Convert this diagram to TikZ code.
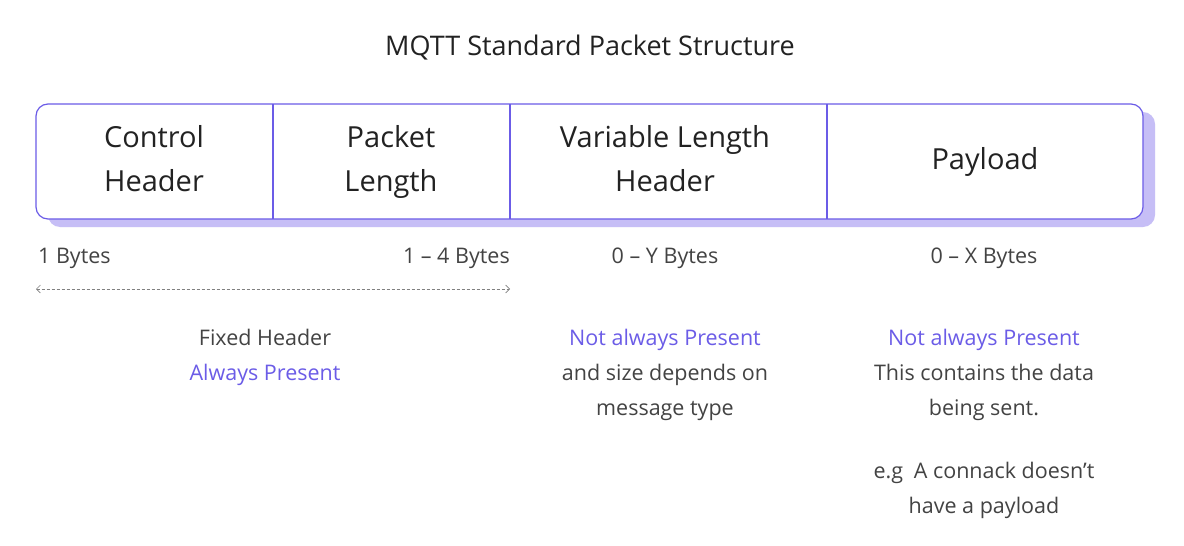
\documentclass[tikz,border=0pt]{standalone}
\usepackage{fontspec}
\setmainfont{Open Sans}
\usetikzlibrary{arrows.meta}
\definecolor{pur}{HTML}{6B5CE7}
\definecolor{shad}{HTML}{C6BEF6}
\definecolor{txt}{HTML}{222222}
\tikzset{cell/.style={font=\fontsize{29}{44}\selectfont, text=txt, align=center, inner sep=0},
 lab/.style={font=\fontsize{21.5}{35}\selectfont, text=txt!85, align=center, inner sep=0},
 plab/.style={font=\fontsize{21.5}{35}\selectfont, text=pur, align=center, inner sep=0}}
\begin{document}
\begin{tikzpicture}[x=1pt,y=-1pt]
\useasboundingbox[fill=white] (0,0) rectangle (1184,546);
\node[font=\fontsize{27}{32}\selectfont, text=txt] (title) at (590,48) {MQTT Standard Packet Structure};
\fill[shad, rounded corners=12] (48,112) rectangle (1155,227);
\draw[pur, fill=white, line width=1.2, rounded corners=12] (36,104) rectangle (1143,219);
\draw[pur, line width=1.2] (273,104) -- (273,219) (510,104) -- (510,219) (827,104) -- (827,219);
\node[cell] (c1) at (154,161) {\strut Control\\\strut Header};
\node[cell] (c2) at (391,161) {\strut Packet\\\strut Length};
\node[cell] (c3) at (665,161) {\strut Variable Length\\\strut Header};
\node[cell] (c4) at (985,161) {\strut Payload};
\node[lab, anchor=west] (b1) at (38,256) {\strut 1 Bytes};
\node[lab, anchor=east] (b2) at (510,256) {\strut 1 – 4 Bytes};
\node[lab] (b3) at (665,256) {\strut 0 – Y Bytes};
\node[lab] (b4) at (984,256) {\strut 0 – X Bytes};
\coordinate (l) at (36,289); \coordinate (r) at (510,289);
\draw[gray, dashed, dash pattern=on 3pt off 2pt, line width=0.6, {Straight Barb[length=4pt]}-{Straight Barb[length=4pt]}] (l) -- (r);
\node[lab] (f1) at (265,338) {\strut Fixed Header};
\node[plab] (f2) at (265,373) {\strut Always Present};
\node[plab] (v1) at (665,338) {\strut Not always Present};
\node[lab] (v2) at (665,391) {\strut and size depends on\\\strut message type};
\node[plab] (p1) at (984,338) {\strut Not always Present};
\node[lab] (p2) at (984,391) {\strut This contains the data\\\strut being sent.};
\node[lab] (p3) at (984,489) {\strut e.g\enspace A connack doesn’t\\\strut have a payload};
\end{tikzpicture}
\end{document}
